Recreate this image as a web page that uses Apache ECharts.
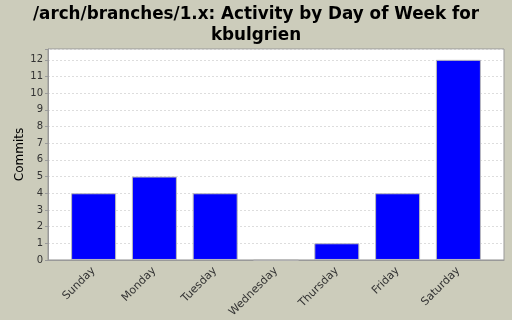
<!DOCTYPE html>
<html><head><meta charset="utf-8">
<script src="https://cdn.jsdelivr.net/npm/echarts@6/dist/echarts.min.js"></script>
<style>html,body{margin:0;padding:0;background:#CCCCBB;}#c{width:512px;height:320px;}</style>
</head><body><div id="c"></div>
<script>
const categories = ["Sunday","Monday","Tuesday","Wednesday","Thursday","Friday","Saturday"];
const commits = [4,5,4,0,1,4,12];
const titleText = "/arch/branches/1.x: Activity by Day of Week for\nkbulgrien";
const positions = categories.map((c, i) => i);
const chart = echarts.init(document.getElementById('c'));
chart.setOption({
  backgroundColor: '#CCCCBB',
  animation: false,
  title: {
    text: titleText, left: 'center', top: -1,
    textStyle: {fontFamily: 'DejaVu Sans', fontWeight: 'bold', fontSize: 16.8, lineHeight: 21, color: '#000'}
  },
  grid: {left: 48, right: 8, top: 49, bottom: 60, show: true, backgroundColor: '#fff', borderColor: '#999', borderWidth: 1},
  xAxis: {
    type: 'value', min: -0.75, max: 6.75,
    axisLine: {show: true, onZero: false, lineStyle: {color: '#999'}},
    axisTick: {show: false},
    splitLine: {show: false},
    axisLabel: {rotate: 45, fontFamily: 'DejaVu Sans', fontSize: 11, color: '#333', margin: 9,
      customValues: positions, formatter: v => categories[Math.round(v)]}
  },
  yAxis: {
    type: 'value', min: 0, max: 12.65, interval: 1,
    name: 'Commits', nameLocation: 'middle', nameGap: 22, nameMoveOverlap: false,
    nameTextStyle: {fontFamily: 'DejaVu Sans', fontSize: 12, color: '#000'},
    axisLine: {show: true, onZero: false, lineStyle: {color: '#999'}},
    axisTick: {show: true, length: 3, lineStyle: {color: '#999'}},
    axisLabel: {fontFamily: 'DejaVu Sans', fontSize: 10, color: '#333', margin: 5,
      formatter: v => Number.isInteger(v) ? String(v) : ''},
    splitLine: {show: true, lineStyle: {color: '#ddd', type: [2,2]}}
  },
  series: [{
    type: 'bar', data: commits.map((v, i) => [positions[i], v]), barWidth: 45,
    itemStyle: {color: '#0000FF', borderColor: '#bbb', borderWidth: 1}
  }]
});
</script></body></html>
